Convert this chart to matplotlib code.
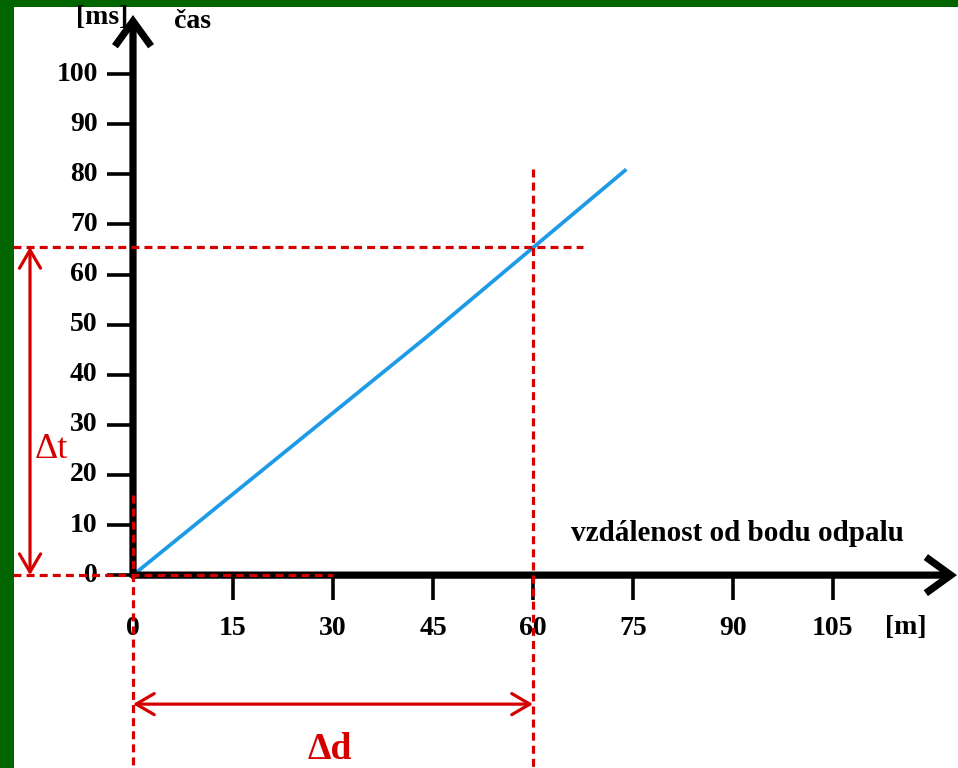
import matplotlib
matplotlib.use("Agg")
from matplotlib import pyplot as plt
from matplotlib.patches import Rectangle

# distance [m] vs. time [ms] of the shock front
dist = [0, 44, 74]
time = [0, 47.5, 81]

x_ticks = [15, 30, 45, 60, 75, 90, 105]
x_labels = ["0", "15", "30", "45", "60", "75", "90", "105"]
y_ticks = [0, 10, 20, 30, 40, 50, 60, 70, 80, 90, 100]

# reading taken off the line
d_read = 60
t_read = 65.5

GREEN = "#006400"
RED = "#d40000"
BLUE = "#1e9be6"
FONT = "Liberation Serif"

fig = plt.figure(figsize=(9.58, 7.68), dpi=100)
fig.patch.set_facecolor(GREEN)
fig.patches.append(Rectangle((14 / 958, 0), 1, 1 - 7 / 768, transform=fig.transFigure,
                             facecolor="white", edgecolor="none", zorder=-10))

ax = fig.add_axes([0, 0, 1, 1])
ax.set_xlim(-19.95, 123.75)
ax.set_ylim(-38.5, 114.8)
ax.axis("off")
ax.patch.set_alpha(0)

# axes with open arrow heads
axis_arrow = dict(arrowstyle="->,head_length=0.9,head_width=0.65", lw=5.2, color="black",
                  shrinkA=0, shrinkB=0, mutation_scale=20, joinstyle="miter", capstyle="butt")
ax.annotate("", xy=(0, 111.8), xytext=(0, -0.5), arrowprops=axis_arrow, zorder=4)
ax.annotate("", xy=(123.6, 0), xytext=(-0.3, 0), arrowprops=axis_arrow, zorder=4)

# ticks and tick labels
for t in y_ticks:
    ax.plot([-3.9, 0], [t, t], color="black", lw=2.6, solid_capstyle="butt", zorder=4)
    ax.text(-5.3, t, str(t), ha="right", va="center", fontsize=20, fontweight="bold",
            family=FONT, zorder=5)
for t in x_ticks:
    ax.plot([t, t], [0, -5], color="black", lw=2.6, solid_capstyle="butt", zorder=4)
for t, lab in zip([0] + x_ticks, x_labels):
    ax.text(t, -10.6, lab, ha="center", va="center", fontsize=20, fontweight="bold",
            family=FONT, zorder=5)

ax.text(-4.6, 111.4, "[ms]", ha="center", va="center", fontsize=20, fontweight="bold", family=FONT)
ax.text(8.9, 110.6, "čas", ha="center", va="center", fontsize=20, fontweight="bold", family=FONT)
ax.text(90.6, 8.4, "vzdálenost od bodu odpalu", ha="center", va="center", fontsize=21,
        fontweight="bold", family=FONT)
ax.text(115.9, -10.4, "[m]", ha="center", va="center", fontsize=20, fontweight="bold", family=FONT)

# measured line
ax.plot(dist, time, color=BLUE, lw=2.7, solid_capstyle="butt", zorder=3)

# dashed guide lines
dash = dict(color=RED, lw=2.3, dashes=(2.5, 1.6), zorder=6)
ax.plot([-18, 67.5], [t_read, t_read], **dash)
ax.plot([d_read, d_read], [81, -38.5], **dash)
ax.plot([0, 0], [16, -38.5], **dash)
ax.plot([-18, 30], [0, 0], **dash)

# delta arrows
red_arrow = dict(arrowstyle="<->,head_length=0.65,head_width=0.38", lw=2.3, color=RED,
                 shrinkA=0, shrinkB=0, mutation_scale=20)
ax.annotate("", xy=(-15.45, 0), xytext=(-15.45, t_read), arrowprops=red_arrow)
ax.annotate("", xy=(0, -25.75), xytext=(d_read, -25.75), arrowprops=red_arrow)
ax.text(-12.2, 25.0, "Δt", ha="center", va="center", fontsize=26, color=RED, family=FONT)
ax.text(29.5, -34.9, "Δd", ha="center", va="center", fontsize=27, fontweight="bold",
        color=RED, family=FONT)

fig.savefig("out.png", dpi=100, facecolor=fig.get_facecolor())
